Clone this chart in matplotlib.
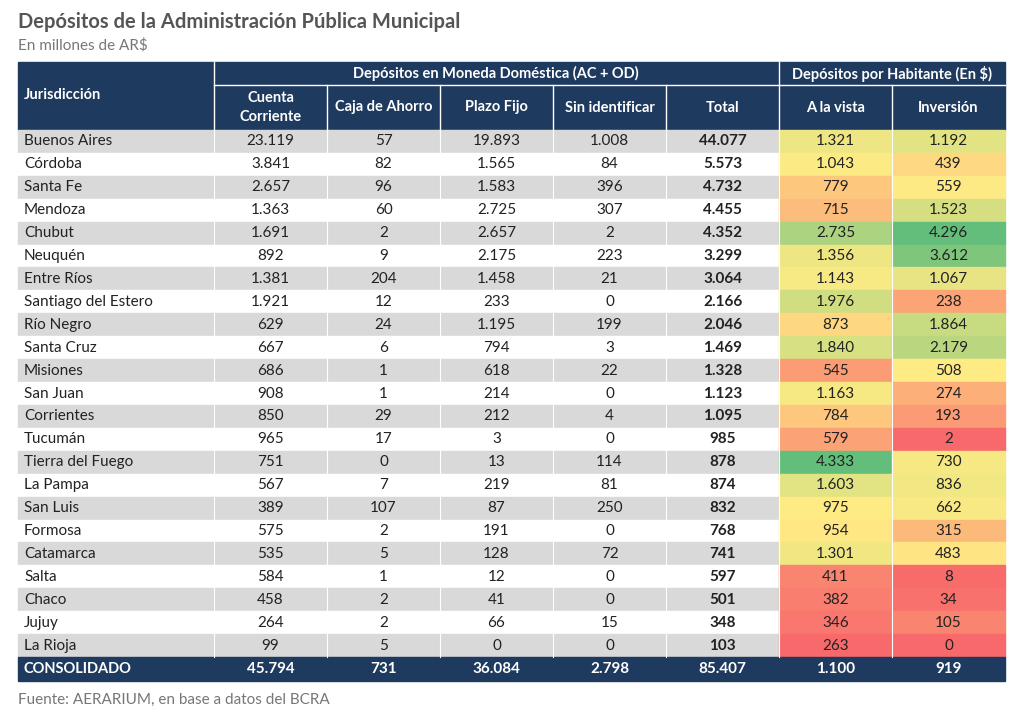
import matplotlib.pyplot as plt
import numpy as np
from matplotlib.colors import LinearSegmentedColormap
from matplotlib.patches import Rectangle

plt.rcParams['font.family'] = ['Lato', 'DejaVu Sans']

provincias = ["Buenos Aires", "Córdoba", "Santa Fe", "Mendoza", "Chubut", "Neuquén",
              "Entre Ríos", "Santiago del Estero", "Río Negro", "Santa Cruz", "Misiones",
              "San Juan", "Corrientes", "Tucumán", "Tierra del Fuego", "La Pampa",
              "San Luis", "Formosa", "Catamarca", "Salta", "Chaco", "Jujuy", "La Rioja"]
cuenta_corriente = [23119, 3841, 2657, 1363, 1691, 892, 1381, 1921, 629, 667, 686, 908, 850,
                    965, 751, 567, 389, 575, 535, 584, 458, 264, 99]
caja_ahorro = [57, 82, 96, 60, 2, 9, 204, 12, 24, 6, 1, 1, 29, 17, 0, 7, 107, 2, 5, 1, 2, 2, 5]
plazo_fijo = [19893, 1565, 1583, 2725, 2657, 2175, 1458, 233, 1195, 794, 618, 214, 212, 3,
              13, 219, 87, 191, 128, 12, 41, 66, 0]
sin_identificar = [1008, 84, 396, 307, 2, 223, 21, 0, 199, 3, 22, 0, 4, 0, 114, 81, 250, 0,
                   72, 0, 0, 15, 0]
total = [44077, 5573, 4732, 4455, 4352, 3299, 3064, 2166, 2046, 1469, 1328, 1123, 1095, 985,
         878, 874, 832, 768, 741, 597, 501, 348, 103]
a_la_vista = [1321, 1043, 779, 715, 2735, 1356, 1143, 1976, 873, 1840, 545, 1163, 784, 579,
              4333, 1603, 975, 954, 1301, 411, 382, 346, 263]
inversion = [1192, 439, 559, 1523, 4296, 3612, 1067, 238, 1864, 2179, 508, 274, 193, 2, 730,
             836, 662, 315, 483, 8, 34, 105, 0]
consolidado = ["CONSOLIDADO", 45794, 731, 36084, 2798, 85407, 1100, 919]


def fmt(v):
    return f"{v:,}".replace(",", ".")


cmap = LinearSegmentedColormap.from_list("ryg", ["#F8696B", "#FFEB84", "#63BE7B"])


def heat(vals, v):
    lo, mid, hi = min(vals), np.percentile(vals, 50), max(vals)
    t = 0.5 * (v - lo) / (mid - lo) if v <= mid else 0.5 + 0.5 * (v - mid) / (hi - mid)
    return cmap(t)


fig = plt.figure(figsize=(10.24, 7.22), dpi=100)
ax = fig.add_axes([0, 0, 1, 1])
ax.set_xlim(0, 1024)
ax.set_ylim(722, 0)
ax.axis("off")

navy = "#1F3A5F"
xs = [18, 214, 327, 440, 553, 666, 779, 892, 1005]
top, h1, h2 = 62, 85, 130
row_h = (657 - 130) / 23

ax.text(18, 22, "Depósitos de la Administración Pública Municipal", fontsize=14.5,
        fontweight="bold", color="#555555", va="center")
ax.text(18, 45, "En millones de AR$", fontsize=11, color="#777777", va="center")

ax.add_patch(Rectangle((18, top), 987, h2 - top, color=navy))
ax.plot([214, 1005], [h1, h1], color="white", lw=1)
for x in xs[1:-1]:
    y0 = h1 if x not in (214, 779) else top
    ax.plot([x, x], [y0, h2], color="white", lw=1)
hdr = dict(color="white", fontweight="bold", fontsize=10.5, ha="center", va="center")
ax.text(496, 73.5, "Depósitos en Moneda Doméstica (AC + OD)", **hdr)
ax.text(892, 73.5, "Depósitos por Habitante (En $)", **hdr)
ax.text(24, 95, "Jurisdicción", color="white", fontweight="bold", fontsize=10.5, va="center")
for i, lab in enumerate(["Cuenta\nCorriente", "Caja de Ahorro", "Plazo Fijo",
                         "Sin identificar", "Total", "A la vista", "Inversión"]):
    ax.text((xs[i + 1] + xs[i + 2]) / 2, 107.5, lab, linespacing=1.4, **hdr)

cols = [cuenta_corriente, caja_ahorro, plazo_fijo, sin_identificar, total]
for r, prov in enumerate(provincias):
    y = h2 + r * row_h
    bg = "#D9D9D9" if r % 2 == 0 else "white"
    ax.add_patch(Rectangle((18, y), 779 - 18, row_h, color=bg))
    for j, col in enumerate([a_la_vista, inversion]):
        ax.add_patch(Rectangle((xs[6 + j], y), 113, row_h, color=heat(col, col[r])))
    yc = y + row_h / 2
    ax.text(24, yc, prov, fontsize=11, va="center", color="#222222")
    for j, col in enumerate(cols + [a_la_vista, inversion]):
        ax.text((xs[j + 1] + xs[j + 2]) / 2, yc, fmt(col[r]), fontsize=11, ha="center",
                va="center", color="#222222", fontweight="bold" if j == 4 else "normal")
for x in xs[1:-1]:
    ax.plot([x, x], [h2, 657], color="white", lw=0.8)

ax.add_patch(Rectangle((18, 657), 987, 24, color=navy))
ax.text(24, 669, consolidado[0], color="white", fontweight="bold", fontsize=10.5, va="center")
for j, v in enumerate(consolidado[1:]):
    ax.text((xs[j + 1] + xs[j + 2]) / 2, 669, fmt(v), color="white", fontweight="bold",
            fontsize=11, ha="center", va="center")

ax.text(18, 700, "Fuente: AERARIUM, en base a datos del BCRA", fontsize=11, color="#777777",
        va="center")

fig.savefig("out.png", dpi=100)
